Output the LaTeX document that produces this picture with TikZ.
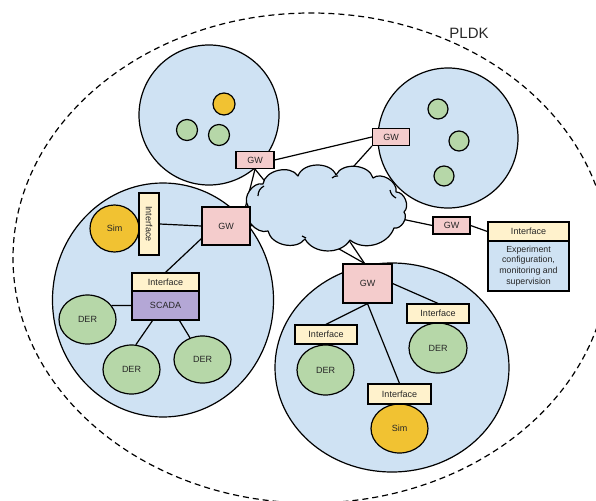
\documentclass[tikz,border=0pt]{standalone}
\usepackage{fontspec}
\setmainfont{Liberation Sans}
\usetikzlibrary{shapes.geometric,calc}
\definecolor{cblue}{HTML}{CFE2F3}
\definecolor{cpink}{HTML}{F4CCCC}
\definecolor{cyel}{HTML}{FFF2CC}
\definecolor{cgreen}{HTML}{B6D7A8}
\definecolor{corange}{HTML}{F1C232}
\definecolor{cpurple}{HTML}{B4A7D6}
\definecolor{ctext}{HTML}{262626}
\pgfdeclarelayer{bg}
\pgfdeclarelayer{wires}
\pgfsetlayers{bg,wires,main}
\begin{document}
\begin{tikzpicture}[x=1pt,y=-1pt,
  ln/.style={line width=1.2pt, draw=black},
  lbl/.style={font=\fontsize{9}{10}\selectfont, text=ctext},
  zone/.style={ln, fill=cblue, inner sep=0},
  gw/.style={ln, fill=cpink, inner sep=0, lbl},
  iface/.style={ln, fill=cyel, inner sep=0, lbl},
  der/.style={ln, ellipse, fill=cgreen, inner sep=0, lbl, minimum width=57pt, minimum height=49pt},
  sim/.style={der, fill=corange},
  dot/.style={ln, circle, fill=cgreen, inner sep=0, minimum size=21pt},
  puff/.style={bend left=#1},
]
\useasboundingbox (0,0) rectangle (596,500);
\clip (0,0) rectangle (596,500);
\begin{pgfonlayer}{bg}
% outer dashed region
\draw[line width=1.2pt, dash pattern=on 6pt off 4pt] (311,258) ellipse [x radius=298, y radius=245];
% zones
\node[zone, circle, minimum size=140pt] (z1) at (209,115) {};
\node[zone, circle, minimum size=140pt] (z2) at (448,138) {};
\node[zone, ellipse, minimum width=221pt, minimum height=234pt] (z3) at (163,300) {};
\node[zone, ellipse, minimum width=234pt, minimum height=209pt] (z4) at (392,367.5) {};
\end{pgfonlayer}

\node[lbl, font=\fontsize{15}{16}\selectfont] (pldk) at (469,33) {PLDK};

% cloud (above wires, below gateways)
\draw[ln, fill=cblue, line join=round]
  (248,206) to[puff=70] (263,184) to[puff=70] (298,176) to[puff=70] (336,175)
  to[puff=70] (373,178) to[puff=70] (396,192) to[puff=70] (404,212)
  to[puff=70] (394,228) to[puff=55] (350,240) to[puff=60] (305,239)
  to[puff=65] (268,231) to[puff=70] cycle;
\draw[ln] (258,196) to[bend left=30] (264,186);
\draw[ln] (332,178) to[bend left=25] (338,176);
\draw[ln] (396,198) to[bend left=25] (390,190);
\draw[ln] (302,236) to[bend left=25] (306,238);

% dots
\node[dot, fill=corange, minimum size=22pt] (d1) at (224,104) {};
\node[dot] (d2) at (187,130) {};
\node[dot] (d3) at (219,135) {};
\node[dot, minimum size=20pt] (d4) at (438,109) {};
\node[dot, minimum size=20pt] (d5) at (459,141) {};
\node[dot, minimum size=20pt] (d6) at (444,176) {};

% gateways
\node[gw, minimum width=38pt, minimum height=17pt] (gw1) at (255,160) {GW};
\node[gw, minimum width=37pt, minimum height=17pt] (gw2) at (391,137) {GW};
\node[gw, minimum width=48pt, minimum height=38pt] (gw3) at (226,226) {GW};
\node[gw, minimum width=49pt, minimum height=39pt] (gw4) at (367.5,283.5) {GW};
\node[gw, minimum width=37pt, minimum height=17pt] (gw5) at (451.5,225.5) {GW};

% points inside the cloud where wires end
\coordinate (c1) at (272,190);
\coordinate (c2) at (336,186);
\coordinate (c3) at (392,217);
\coordinate (c4) at (302,228);
\coordinate (c5) at (342,230);
\coordinate (c6) at (266,220);

% left zone nodes
\node[sim, minimum width=49pt, minimum height=47pt] (sim1) at (114.5,228.5) {Sim};
\node[iface, minimum width=20pt, minimum height=62pt] (if1) at (149,224) {};
\node[lbl, rotate=-90] (if1t) at (if1) {Interface};
\node[ln, fill=cpurple, inner sep=0, lbl, minimum width=67pt, minimum height=29pt] (scada) at (165.5,305.5) {SCADA};
\node[iface, minimum width=67pt, minimum height=18pt] (ifs) at (165.5,282) {Interface};
\node[der] (der1) at (87.5,319.5) {DER};
\node[der] (der2) at (131.5,369.5) {DER};
\node[der, minimum height=47pt] (der3) at (202.5,359.5) {DER};

% bottom-right zone nodes
\node[der, minimum height=50pt] (dera) at (325.5,370) {DER};
\node[iface, minimum width=62pt, minimum height=19pt] (ifa) at (326,334.5) {Interface};
\node[der, minimum width=58pt, minimum height=50pt] (derb) at (438,348) {DER};
\node[iface, minimum width=62pt, minimum height=19pt] (ifb) at (438,313.5) {Interface};
\node[sim] (sim2) at (399.5,428.5) {Sim};
\node[iface, minimum width=63pt, minimum height=20pt] (ifc) at (399.5,394) {Interface};

% right boxes
\node[iface, minimum width=81pt, minimum height=19pt] (ifr) at (528.5,231.5) {Interface};
\node[ln, fill=cblue, inner sep=0, minimum width=81pt, minimum height=50pt, align=center,
      font=\fontsize{8.8}{10.6}\selectfont, text=ctext] (exp) at (528.5,266) {Experiment\\configuration,\\monitoring and\\supervision};

% connectors
\begin{pgfonlayer}{wires}
\draw[ln] (gw1.east) -- (gw2.west);
\draw[ln] (gw1.south) -- (c1);
\draw[ln] (gw1.south) -- ($(gw3.north east)+(-5,0)$);
\draw[ln] (gw2.south west) -- (c2);
\draw[ln] (c3) -- (gw5.west);
\draw[ln] (c4) -- ($(gw4.north)+(-3,0)$);
\draw[ln] (c5) -- ($(gw4.north)+(-3,0)$);
\draw[ln] (gw3.east) -- (c6);
\draw[ln] (if1.east) -- (gw3.west);
\draw[ln] ($(gw3.south west)+(0,-7)$) -- (ifs.north);
\draw[ln] (der1.30) -- (scada.west);
\draw[ln] ($(scada.south)+(-13,0)$) -- (der2.80);
\draw[ln] ($(scada.south)+(14,0)$) -- (der3.120);
\draw[ln] (gw4.south) -- (ifa.north);
\draw[ln] (gw4.south) -- (ifc.north);
\draw[ln] (gw4.east) -- (ifb.north);
\draw[ln] (gw5.east) -- (ifr.west);
\end{pgfonlayer}
\end{tikzpicture}
\end{document}
